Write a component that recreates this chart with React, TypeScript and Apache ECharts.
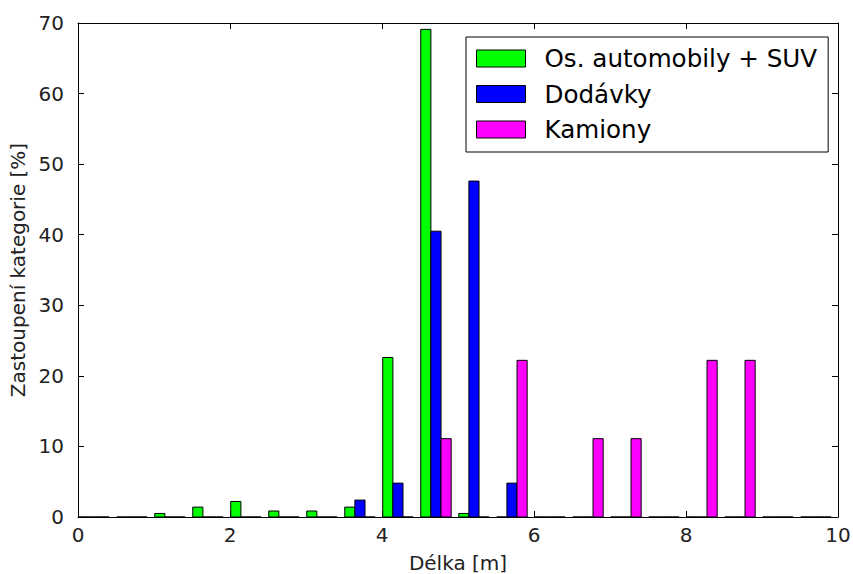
import React, { useEffect, useRef } from "react";
import * as echarts from "echarts";

const binStarts = [0, 0.5, 1, 1.5, 2, 2.5, 3, 3.5, 4, 4.5, 5, 5.5, 6, 6.5, 7, 7.5, 8, 8.5, 9, 9.5];
const carsPct = [0, 0, 0.5, 1.4, 2.2, 0.85, 0.85, 1.4, 22.6, 69.1, 0.5, 0, 0, 0, 0, 0, 0, 0, 0, 0];
const vansPct = [0, 0, 0, 0, 0, 0, 0, 2.4, 4.8, 40.5, 47.6, 4.8, 0, 0, 0, 0, 0, 0, 0, 0];
const trucksPct = [0, 0, 0, 0, 0, 0, 0, 0, 0, 11.1, 0, 22.2, 0, 11.1, 11.1, 0, 22.2, 22.2, 0, 0];
const seriesNames = ["Os. automobily + SUV", "Dodávky", "Kamiony"];
const seriesColors = ["#00ff00", "#0000ff", "#ff00ff"];
const xTicks = { min: 0, max: 10, interval: 2 };
const yTicks = { min: 0, max: 70, interval: 10 };

const FONT = "DejaVu Sans";

export default function App() {
  const ref = useRef<HTMLDivElement>(null);
  useEffect(() => {
    if (!ref.current) return;
    const chart = echarts.init(ref.current, undefined, { renderer: "svg" });
    const groupOffset = 0.01;
    const barW = 0.4 / 3;
    const allData = [carsPct, vansPct, trucksPct];
    const series = allData.map((vals, k) => ({
      type: "custom" as const,
      name: seriesNames[k],
      xAxisIndex: 0,
      yAxisIndex: 0,
      itemStyle: { color: seriesColors[k], borderColor: "#000", borderWidth: 1 },
      data: binStarts.map((b, i) => [b, vals[i]]),
      encode: { x: 0, y: 1 },
      renderItem: (params: any, api: any) => {
        const b = api.value(0);
        const v = api.value(1);
        const x0 = b + groupOffset + k * barW;
        const p0 = api.coord([x0, v]);
        const p1 = api.coord([x0 + barW, 0]);
        return {
          type: "rect",
          shape: { x: p0[0], y: p0[1], width: p1[0] - p0[0], height: p1[1] - p0[1] },
          style: { fill: seriesColors[k], stroke: "#000", lineWidth: 1 },
        };
      },
    }));

    const tickCommon = { inside: true, length: 6, lineStyle: { color: "#000", width: 1 } };
    chart.setOption({
      animation: false,
      backgroundColor: "#fff",
      grid: { left: 78, right: 15, top: 23, bottom: 57, containLabel: false, outerBoundsMode: "none" },
      legend: {
        orient: "vertical",
        left: 466,
        top: 37,
        padding: [9, 11, 10, 10],
        borderColor: "#000",
        borderWidth: 1,
        backgroundColor: "#fff",
        itemWidth: 49,
        itemHeight: 17,
        itemGap: 10.5,
        textStyle: { fontFamily: FONT, fontSize: 24.6, color: "#000", lineHeight: 20, padding: [0, 0, 0, 14] },
        data: seriesNames.map((n, k) => ({
          name: n,
          icon: "rect",
          itemStyle: { color: seriesColors[k], borderColor: "#000", borderWidth: 1 },
        })),
      },
      xAxis: [
        {
          type: "value",
          ...xTicks,
          position: "bottom",
          name: "Délka [m]",
          nameLocation: "middle",
          nameGap: 36,
          nameTextStyle: { fontFamily: FONT, fontSize: 20, color: "#222" },
          axisLine: { show: true, onZero: false, lineStyle: { color: "#000", width: 1 } },
          axisTick: tickCommon,
          axisLabel: { fontFamily: FONT, fontSize: 20, color: "#222", margin: 8 },
          splitLine: { show: false },
        },
        {
          type: "value",
          ...xTicks,
          position: "top",
          axisLine: { show: true, onZero: false, lineStyle: { color: "#000", width: 1 } },
          axisTick: tickCommon,
          axisLabel: { show: false },
          splitLine: { show: false },
        },
      ],
      yAxis: [
        {
          type: "value",
          ...yTicks,
          position: "left",
          name: "Zastoupení kategorie [%]",
          nameLocation: "middle",
          nameGap: 46,
          nameTextStyle: { fontFamily: FONT, fontSize: 20, color: "#222" },
          axisLine: { show: true, onZero: false, lineStyle: { color: "#000", width: 1 } },
          axisTick: tickCommon,
          axisLabel: { fontFamily: FONT, fontSize: 20, color: "#222", margin: 14 },
          splitLine: { show: false },
        },
        {
          type: "value",
          ...yTicks,
          position: "right",
          axisLine: { show: true, onZero: false, lineStyle: { color: "#000", width: 1 } },
          axisTick: tickCommon,
          axisLabel: { show: false },
          splitLine: { show: false },
        },
      ],
      series,
    });
    return () => chart.dispose();
  }, []);
  return (
    <div
      ref={ref}
      style={{ position: "fixed", left: 0, top: 0, width: 853, height: 574, background: "#fff" }}
    />
  );
}
